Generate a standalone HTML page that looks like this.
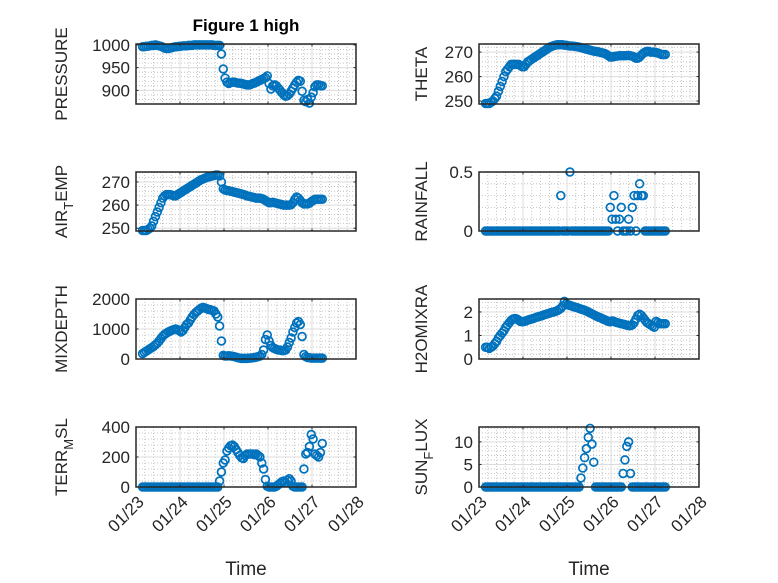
<!DOCTYPE html>
<html><head><meta charset="utf-8"><style>
body{margin:0;background:#fff;}
svg{display:block;font-family:"Liberation Sans",sans-serif;}
</style></head><body>
<svg id="fig" width="778" height="583" viewBox="0 0 778 583" xmlns="http://www.w3.org/2000/svg">
<rect width="778" height="583" fill="#fff"/>
<text x="246" y="31" text-anchor="middle" font-weight="bold" font-size="17" fill="#000">Figure 1 high</text>
</svg>
<script>
const xTickLabels = ["01/23","01/24","01/25","01/26","01/27","01/28"];
const pressure = [996,996,997,997,998,999,999,1000,999,998,997,995,993,992,992,993,994,995,996,996,997,997,998,998,
998,999,999,999,1000,1000,1000,1000,1000,1000,1000,1000,1000,1000,1000,999,999,999,999,980,947,927,918,915,
917,918,918,917,916,916,915,914,913,912,912,913,915,916,918,920,922,924,926,928,932,915,903,910,
912,910,905,900,895,890,887,888,892,898,905,912,918,922,920,898,878,875,880,872,885,895,908,912,
912,910,910];
const theta = [249,249,249,249.5,250,251,252,254,256,258,260,262,
263,264,265,265,265,265,265,264.5,264,264,265,266,
266.5,267,267.5,268,268.5,269,269.5,270,270.5,271,271.5,272,
272.3,272.6,272.8,273,273,273,273,272.8,272.8,272.6,272.5,272.5,
272.4,272.3,272.2,272,271.8,271.6,271.4,271.2,271,270.8,270.6,270.4,
270.3,270.2,270,269.8,269.6,269.4,269,268.5,268,268,268.2,268.3,
268.4,268.5,268.5,268.5,268.5,268.6,268.6,268.5,268.3,268,267.5,267.5,
268,268.8,269.5,270,270.3,270.3,270,270,270,269.8,269.6,269.3,
269,269,269];
const airTemp = [249,249,249,249.5,250,251,253,255,257,259,261,263,
264,264.5,264.5,264.5,264.3,264,264,264.5,265,265.5,266,266.5,
267,267.5,268,268.5,269,269.5,270,270.5,271,271.3,271.6,272,
272.2,272.4,272.6,272.8,273,273,272.6,270,267,266.5,266.3,266.2,
266,265.8,265.6,265.4,265.2,265,264.8,264.6,264.3,264,263.8,263.6,
263.4,263.2,263,263,263,262.8,262.5,262,261.5,261,261,261.2,
261,260.8,260.6,260.4,260.2,260,260,260,260,260.2,261,262.5,
263.5,263,262,261,260.5,260.5,260.5,260.8,261.5,262,262.5,262.5,
262.5,262.5,262.5];
const rainfall = [0,0,0,0,0,0,0,0,0,0,0,0,0,0,0,0,0,0,0,0,0,0,0,0,
0,0,0,0,0,0,0,0,0,0,0,0,0,0,0,0,0,0.3,0,0,0,0,0.5,0,
0,0,0,0,0,0,0,0,0,0,0,0,0,0,0,0,0,0,0,0,0.2,0.1,0.3,0.1,
0,0.1,0.2,0,0,0,0.1,0,0.2,0.3,0,0.3,0.4,0.3,0.3,0,0,0,0,0,0,0,0,0,
0,0,0];
const mixDepth = [180,220,260,300,340,380,420,470,530,600,680,760,
820,860,900,930,960,980,1000,980,940,900,950,1050,
1150,1200,1300,1400,1480,1550,1600,1650,1700,1720,1700,1680,
1650,1640,1620,1600,1500,1400,1100,600,120,100,100,110,
100,90,80,60,40,30,20,20,20,20,30,30,
40,50,60,80,100,150,300,650,800,600,450,380,
350,320,300,300,280,280,300,400,550,700,900,1050,
1200,1250,1150,750,150,80,50,40,30,30,30,30,
30,30,30];
const h2oMixRatio = [0.5,0.5,0.45,0.5,0.55,0.65,0.75,0.9,1.0,1.1,1.2,1.35,
1.45,1.55,1.65,1.7,1.72,1.7,1.65,1.6,1.58,1.6,1.62,1.65,
1.68,1.7,1.72,1.75,1.78,1.8,1.82,1.85,1.88,1.9,1.93,1.95,
1.98,2.0,2.02,2.05,2.1,2.15,2.25,2.45,2.35,2.3,2.28,2.25,
2.22,2.2,2.18,2.15,2.12,2.1,2.07,2.04,2.0,1.96,1.92,1.88,
1.84,1.8,1.77,1.74,1.7,1.67,1.63,1.6,1.58,1.62,1.6,1.56,
1.54,1.52,1.5,1.48,1.46,1.44,1.42,1.42,1.45,1.55,1.7,1.85,
1.9,1.85,1.75,1.65,1.55,1.5,1.45,1.4,1.35,1.6,1.55,1.5,
1.5,1.5,1.5];
const terrMsl = [0,0,0,0,0,0,0,0,0,0,0,0,0,0,0,0,0,0,0,0,0,0,0,0,
0,0,0,0,0,0,0,0,0,0,0,0,0,0,0,0,0,0,40,100,160,180,240,260,
275,280,270,250,230,210,195,190,210,220,220,220,
220,215,220,210,200,160,120,50,5,0,0,0,
0,5,15,25,35,40,30,45,55,40,5,0,
0,0,0,0,120,220,230,270,350,320,220,210,
200,230,290];
const sunFlux = [0,0,0,0,0,0,0,0,0,0,0,0,0,0,0,0,0,0,0,0,0,0,0,0,
0,0,0,0,0,0,0,0,0,0,0,0,0,0,0,0,0,0,0,0,0,0,0,0,
0,0,0,0,2,4.2,6.5,8.5,11,13,9.5,5.5,0,0,0,0,0,0,0,0,0,0,0,0,
0,0,0,3,6,9,10,3,0,0,0,0,0,0,0,0,0,0,0,0,0,0,0,0,
0,0,0];

const svg = document.getElementById('fig');
const NS = 'http://www.w3.org/2000/svg';
function mk(tag, attrs, parent){const e=document.createElementNS(NS,tag);for(const k in attrs)e.setAttribute(k,attrs[k]);(parent||svg).appendChild(e);return e;}

const panels = [
 {name:'pressure',data:pressure,x0:136,x1:356,y0:44,y1:104,lo:870,hi:1002,ticks:[900,950,1000],minor:10,label:['PRESSURE'],lx:67,bottom:false},
 {name:'theta',data:theta,x0:479,x1:699,y0:44,y1:104,lo:248.8,hi:273.3,ticks:[250,260,270],minor:2,label:['THETA'],lx:427,bottom:false},
 {name:'air-temp',data:airTemp,x0:136,x1:356,y0:172,y1:231,lo:248.8,hi:274.3,ticks:[250,260,270],minor:2,label:['AIR','T','EMP'],lx:67,bottom:false},
 {name:'rainfall',data:rainfall,x0:479,x1:699,y0:172,y1:231,lo:0,hi:0.5,ticks:[0,0.5],minor:0.1,label:['RAINFALL'],lx:427,bottom:false},
 {name:'mixdepth',data:mixDepth,x0:136,x1:356,y0:299,y1:359,lo:0,hi:2000,ticks:[0,1000,2000],minor:200,label:['MIXDEPTH'],lx:67,bottom:false},
 {name:'h2omixra',data:h2oMixRatio,x0:479,x1:699,y0:299,y1:359,lo:0,hi:2.55,ticks:[0,1,2],minor:0.2,label:['H2OMIXRA'],lx:427,bottom:false},
 {name:'terr-msl',data:terrMsl,x0:136,x1:356,y0:427,y1:487,lo:0,hi:400,ticks:[0,200,400],minor:40,label:['TERR','M','SL'],lx:67,bottom:true},
 {name:'sun-flux',data:sunFlux,x0:479,x1:699,y0:427,y1:487,lo:0,hi:13.3,ticks:[0,5,10],minor:1,label:['SUN','F','LUX'],lx:427,bottom:true}
];

panels.forEach(p=>{
  const g = mk('g',{});
  
  
  const X = d => p.x0 + (d/5)*(p.x1-p.x0);
  const Y = v => p.y1 - (v-p.lo)/(p.hi-p.lo)*(p.y1-p.y0);
  mk('rect',{x:p.x0,y:p.y0,width:p.x1-p.x0,height:p.y1-p.y0,fill:'#fff'},g);
  for(let d=0.2; d<5; d+=0.2){ if(Math.abs(d-Math.round(d))<1e-6) continue;
    mk('line',{x1:X(d),x2:X(d),y1:p.y0,y2:p.y1,stroke:'#b8b8b8','stroke-width':0.8,'stroke-dasharray':'1 2'},g);}
  const start = Math.ceil(p.lo/p.minor)*p.minor;
  for(let v=start; v<=p.hi+1e-9; v+=p.minor){
    if(p.ticks.some(t=>Math.abs(t-v)<1e-6)) continue;
    mk('line',{x1:p.x0,x2:p.x1,y1:Y(v),y2:Y(v),stroke:'#b8b8b8','stroke-width':0.8,'stroke-dasharray':'1 2'},g);}
  for(let d=1; d<5; d++) mk('line',{x1:X(d),x2:X(d),y1:p.y0,y2:p.y1,stroke:'#dcdcdc','stroke-width':1},g);
  p.ticks.forEach(t=>{ mk('line',{x1:p.x0,x2:p.x1,y1:Y(t),y2:Y(t),stroke:'#dcdcdc','stroke-width':1},g); });
  const pts = mk('g',{fill:'none',stroke:'#0072BD','stroke-width':1.7},g);
  
  
  p.data.forEach((v,i)=>{
    const t = 0.15 + i/24;
    const c = mk('circle',{cx:X(t).toFixed(2),cy:Y(v).toFixed(2),r:3.9},pts);
    
    
  });
  mk('rect',{x:p.x0,y:p.y0,width:p.x1-p.x0,height:p.y1-p.y0,fill:'none',stroke:'#262626','stroke-width':1.5},g);
  for(let d=0; d<=5; d++){
    mk('line',{x1:X(d),x2:X(d),y1:p.y1,y2:p.y1-2.5,stroke:'#262626'},g);
    mk('line',{x1:X(d),x2:X(d),y1:p.y0,y2:p.y0+2.5,stroke:'#262626'},g);
  }
  p.ticks.forEach(t=>{
    mk('line',{x1:p.x0,x2:p.x0+2.5,y1:Y(t),y2:Y(t),stroke:'#262626'},g);
    mk('line',{x1:p.x1,x2:p.x1-2.5,y1:Y(t),y2:Y(t),stroke:'#262626'},g);
    const tx = mk('text',{x:p.x0-6,y:Y(t)+6,'text-anchor':'end','font-size':17,fill:'#262626'},g);
    
    
    tx.textContent = String(t);
  });
  const cy = (p.y0+p.y1)/2;
  const yl = mk('text',{x:p.lx,y:cy,'text-anchor':'middle','font-size':17,fill:'#262626',transform:`rotate(-90 ${p.lx} ${cy})`},g);
  
  
  if(p.label.length===1){ yl.textContent=p.label[0]; }
  else {
    const a=mk('tspan',{},yl); a.textContent=p.label[0];
    const b=mk('tspan',{dy:6,'font-size':13},yl); b.textContent=p.label[1];
    const c=mk('tspan',{dy:-6},yl); c.textContent=p.label[2];
  }
  if(p.bottom){
    xTickLabels.forEach((lab,d)=>{
      const x=X(d)+9, y=503;
      const tx=mk('text',{x:x,y:y,'text-anchor':'end','font-size':17,fill:'#262626',transform:`rotate(-45 ${x} ${y})`},g);
      
      
      tx.textContent=lab;
    });
    const xt=mk('text',{x:(p.x0+p.x1)/2,y:575,'text-anchor':'middle','font-size':19,fill:'#262626'},g);
    
    
    xt.textContent='Time';
  }
});
</script>
</body></html>
